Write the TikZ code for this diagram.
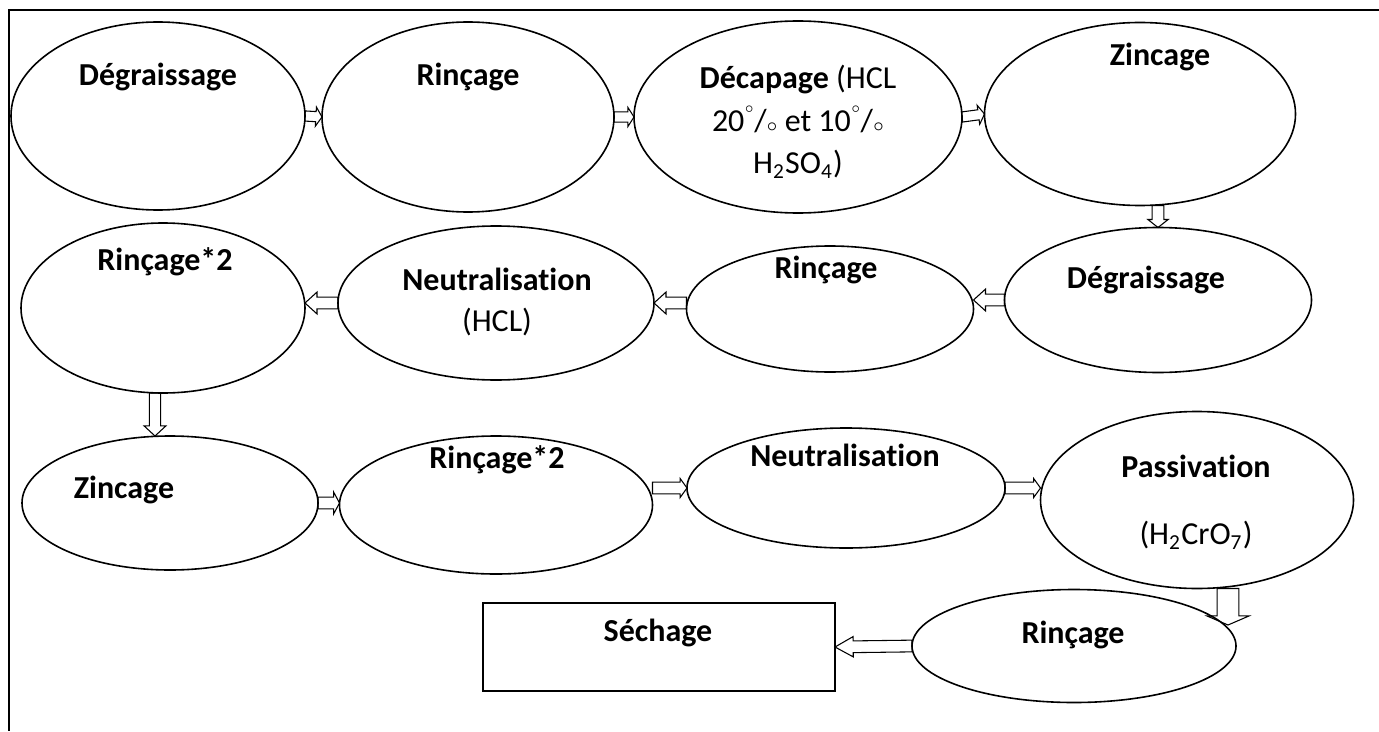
\documentclass[tikz,border=0pt]{standalone}
\usepackage{fontspec}
\setmainfont{Carlito}[Ligatures=NoCommon]
\usepackage{tikz}
\usetikzlibrary{shapes.geometric,calc}

\begin{document}
\begin{tikzpicture}[x=0.375pt,y=-0.375pt,
    stage/.style 2 args={ellipse,draw,line width=0.6pt,inner sep=0pt,outer sep=0pt,
        minimum width=#1*0.375pt,minimum height=#2*0.375pt},
    lbl/.style={font=\fontsize{12}{15}\selectfont\bfseries,align=center},
    txt/.style={font=\fontsize{12}{15}\selectfont,align=center},
    barrow/.style n args={3}{line width=0.5pt,fill=white,to path={
        ($(\tikztostart)!#1!90:(\tikztotarget)$)
        -- ($(\tikztotarget)!#3!(\tikztostart)!#1!-90:(\tikztostart)$)
        -- ($(\tikztotarget)!#3!(\tikztostart)!#2!-90:(\tikztostart)$)
        -- (\tikztotarget)
        -- ($(\tikztotarget)!#3!(\tikztostart)!#2!90:(\tikztostart)$)
        -- ($(\tikztotarget)!#3!(\tikztostart)!#1!90:(\tikztostart)$)
        -- ($(\tikztostart)!#1!-90:(\tikztotarget)$) -- cycle}}]
    \useasboundingbox (0,0) rectangle (1379,731);

    % Draw the frame
    \draw[line width=0.8pt] (1379,10) -- (9,10) -- (9,731);

    % First row
    \node[stage={294}{188}] (deg1) at (158,116) {};
    \node[lbl] (deg1t) at (158,77) {Dégraissage};
    \node[stage={292}{190}] (rin1) at (468,117) {};
    \node[lbl] (rin1t) at (468,77) {Rinçage};
    \node[stage={328}{192}] (dec) at (798,117) {};
    \node[txt] (dect) at (798,122) {\textbf{Décapage} (HCL\\[1pt]
        20\raisebox{1.2ex}{\tiny$\circ$}/{\scriptsize$\circ$} et 10\raisebox{1.2ex}{\tiny$\circ$}/{\scriptsize$\circ$}\\[1pt]
        H\textsubscript{2}SO\textsubscript{4})};
    \node[stage={311}{183}] (zin1) at (1140,114) {};
    \node[lbl] (zin1t) at (1160,57) {Zincage};

    % Second row
    \node[stage={307}{145}] (deg2) at (1158,300) {};
    \node[lbl] (deg2t) at (1146,280) {Dégraissage};
    \node[stage={287}{126}] (rin2) at (830,309) {};
    \node[lbl] (rin2t) at (826,270) {Rinçage};
    \node[stage={316}{154}] (neu1) at (496,303) {};
    \node[lbl] (neu1t) at (497,279) {Neutralisation};
    \node[txt] (neu1h) at (497,322) {(HCL)};
    \node[stage={284}{170}] (rin2b) at (163,308) {};
    \node[lbl] (rin2bt) at (165,262) {Rinçage*2};

    % Third row
    \node[stage={296}{134}] (zin2) at (170,503) {};
    \node[lbl] (zin2t) at (124,490) {Zincage};
    \node[stage={313}{138}] (rin3) at (496,505) {};
    \node[lbl] (rin3t) at (497,460) {Rinçage*2};
    \node[stage={318}{120}] (neu2) at (846,488) {};
    \node[lbl] (neu2t) at (845,455) {Neutralisation};
    \node[stage={313}{177}] (pas) at (1197,500) {};
    \node[lbl] (past) at (1196,466) {Passivation};
    \node[txt] (pash) at (1196,535) {(H\textsubscript{2}CrO\textsubscript{7})};

    % Last step
    \node[stage={324}{113}] (rin4) at (1074,646) {};
    \node[lbl] (rin4t) at (1073,635) {Rinçage};
    \node[draw,line width=0.6pt,minimum width=352*0.375pt,minimum height=88*0.375pt,
        inner sep=0pt,outer sep=0pt] (sech) at (659,647) {};
    \node[lbl] (secht) at (658,633) {Séchage};
    \coordinate (pasend) at (1228,625);

    % Draw the arrows
    \draw (deg1.east) to[barrow={1.9pt}{3.6pt}{2.3pt}] (rin1.west);
    \draw (rin1.east) to[barrow={1.9pt}{3.6pt}{2.3pt}] (dec.west);
    \draw (dec.east) to[barrow={1.9pt}{3.6pt}{2.3pt}] (zin1.west);
    \draw (zin1.south -| deg2.north) to[barrow={2.2pt}{3.8pt}{3pt}] (deg2.north);
    \draw (deg2.west) to[barrow={2.2pt}{4.1pt}{4.5pt}] (deg2.west -| rin2.east);
    \draw (rin2.west |- neu1.east) to[barrow={2.2pt}{4.1pt}{4.5pt}] (neu1.east);
    \draw (neu1.west) to[barrow={2.2pt}{4.1pt}{4.5pt}] (neu1.west -| rin2b.east);
    \draw ([xshift=-3pt]rin2b.south) to[barrow={2.1pt}{4.1pt}{3.8pt}] ([xshift=-3pt]rin2b.south |- zin2.north);
    \draw (zin2.east) to[barrow={2.2pt}{4.1pt}{2.2pt}] (zin2.east -| rin3.west);
    \draw (rin3.east |- neu2.west) to[barrow={2.2pt}{3.6pt}{2.6pt}] (neu2.west);
    \draw (neu2.east) to[barrow={2.2pt}{3.6pt}{2.6pt}] (neu2.east -| pas.west);
    \draw (pas.south -| pasend) to[barrow={4.1pt}{7.9pt}{3.4pt}] (pasend);
    \draw (rin4.west) to[barrow={2.2pt}{3.8pt}{6.8pt}] (sech.east);
\end{tikzpicture}
\end{document}
